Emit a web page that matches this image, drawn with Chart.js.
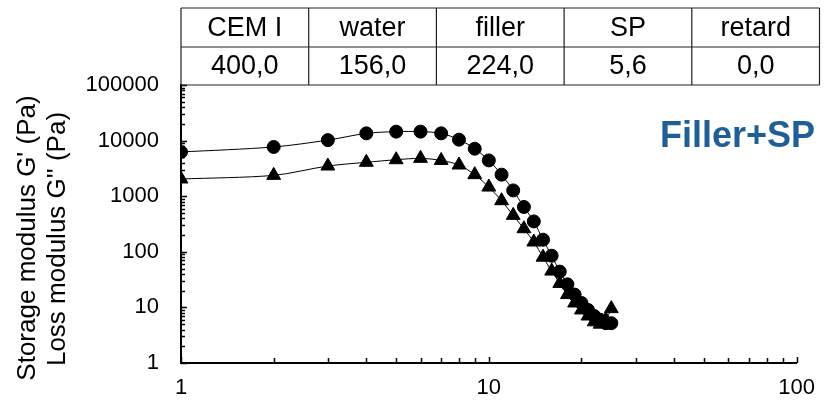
<!DOCTYPE html>
<html>
<head>
<meta charset="utf-8">
<script src="https://cdn.jsdelivr.net/npm/chart.js@4.4.1/dist/chart.umd.min.js"></script>
<style>
  html, body { margin: 0; padding: 0; background: #fff; }
</style>
</head>
<body>
<canvas id="rheoChart" width="827" height="402"></canvas>
<script>
// frequency steps and moduli
const frequency = [1, 2, 3, 4, 5, 6, 7, 8, 9, 10, 11, 12, 13, 14, 15, 16, 17, 18, 19, 20, 21, 22, 23, 24, 25];
const storageModulus = [6240, 7680, 10200, 13500, 14500, 14500, 13500, 10400, 7150, 4400, 2440, 1270, 640, 352, 165, 85, 44, 26, 17, 12, 9, 7, 6, 5.2, 5.2];
const lossModulus = [2040, 2370, 3490, 4070, 4530, 4790, 4400, 3640, 2440, 1460, 830, 452, 260, 150, 80, 45, 27, 17, 12, 9, 7, 5.5, 5, 6, 9.5];

// mix table above the plot
const tableHeaders = ["CEM I", "water", "filler", "SP", "retard"];
const tableValues = ["400,0", "156,0", "224,0", "5,6", "0,0"];

const xTickLabels = [1, 10, 100];
const yTickLabels = [1, 10, 100, 1000, 10000, 100000];
const yTitle = ["Storage modulus G' (Pa)", "Loss modulus G'' (Pa)"];
const seriesTag = "Filler+SP";

const FONT = "'Liberation Sans', Arial, sans-serif";

const toPoints = ys => frequency.map((f, i) => ({ x: f, y: ys[i] }));

// table, inward tick marks, y title and the tag
const overlay = {
  id: "overlay",
  afterDraw(chart) {
    const { ctx, chartArea, scales } = chart;
    const xs = scales.x, ys = scales.y;
    ctx.save();

    // tick marks pointing into the plot
    ctx.strokeStyle = "#000";
    ctx.lineWidth = 1.5;
    ctx.beginPath();
    for (let d = 1; d <= 10; d *= 10) {
      for (let m = 1; m <= 10; m++) {
        const px = Math.round(xs.getPixelForValue(d * m)) + 0.5;
        const len = m === 1 || m === 10 ? 6 : 5;
        ctx.moveTo(px, chartArea.bottom);
        ctx.lineTo(px, chartArea.bottom - len);
      }
    }
    for (let d = 1; d <= 10000; d *= 10) {
      for (let m = 1; m <= 10; m++) {
        const py = Math.round(ys.getPixelForValue(d * m)) + 0.5;
        const len = m === 1 || m === 10 ? 6 : 4;
        ctx.moveTo(chartArea.left, py);
        ctx.lineTo(chartArea.left + len, py);
      }
    }
    ctx.stroke();

    // table
    const colW = 127.7;
    const top = 8, mid = 47, bot = chartArea.top;
    const left = chartArea.left;
    const right = left + colW * tableHeaders.length;
    ctx.lineWidth = 1.2;
    ctx.strokeStyle = "#222";
    ctx.beginPath();
    [top, mid, bot].forEach(y => { ctx.moveTo(left, y); ctx.lineTo(right, y); });
    for (let i = 0; i <= tableHeaders.length; i++) {
      const x = left + colW * i;
      ctx.moveTo(x, top);
      ctx.lineTo(x, bot);
    }
    ctx.stroke();
    ctx.fillStyle = "#000";
    ctx.font = "27px " + FONT;
    ctx.textAlign = "center";
    ctx.textBaseline = "middle";
    tableHeaders.forEach((h, i) => {
      const cx = left + colW * (i + 0.5);
      ctx.fillText(h, cx, (top + mid) / 2 + 1);
      ctx.fillText(tableValues[i], cx, (mid + bot) / 2 + 1);
    });

    // y axis title, two lines
    ctx.font = "26px " + FONT;
    ctx.translate(0, 238);
    ctx.rotate(-Math.PI / 2);
    ctx.fillText(yTitle[0], 0, 28);
    ctx.fillText(yTitle[1], -1, 58);
    ctx.setTransform(1, 0, 0, 1, 0, 0);

    // series tag
    ctx.font = "bold 36px " + FONT;
    ctx.fillStyle = "#205f96";
    ctx.textAlign = "left";
    ctx.textBaseline = "alphabetic";
    ctx.fillText(seriesTag, 660, 147);

    ctx.restore();
  }
};

new Chart(document.getElementById("rheoChart"), {
  type: "line",
  data: {
    datasets: [
      {
        label: "G'",
        data: toPoints(storageModulus),
        borderColor: "#000",
        borderWidth: 1,
        pointStyle: "circle",
        pointRadius: 6.5,
        pointBackgroundColor: "#000",
        pointBorderColor: "#000",
        tension: 0.3
      },
      {
        label: "G''",
        data: toPoints(lossModulus),
        borderColor: "#000",
        borderWidth: 1,
        pointStyle: "triangle",
        pointRadius: 8,
        pointBackgroundColor: "#000",
        pointBorderColor: "#000",
        tension: 0.3
      }
    ]
  },
  options: {
    responsive: false,
    animation: false,
    layout: { padding: { top: 85, right: 19, left: 0, bottom: 0 } },
    plugins: {
      legend: { display: false },
      tooltip: { enabled: false }
    },
    scales: {
      x: {
        type: "logarithmic",
        min: 1,
        max: 100,
        grid: { display: false, drawTicks: false },
        border: { display: true, color: "#000", width: 2 },
        ticks: {
          autoSkip: false,
          maxRotation: 0,
          padding: 12,
          color: "#000",
          font: { family: FONT, size: 22 },
          callback: v => (xTickLabels.includes(v) ? String(v) : "")
        },
        afterFit: s => { s.height = 39; }
      },
      y: {
        type: "logarithmic",
        min: 1,
        max: 100000,
        grid: { display: false, drawTicks: false },
        border: { display: true, color: "#000", width: 2 },
        ticks: {
          autoSkip: false,
          padding: 22,
          color: "#000",
          font: { family: FONT, size: 22 },
          callback: v => (yTickLabels.includes(v) ? String(v) : "")
        },
        afterFit: s => { s.width = 181; }
      }
    }
  },
  plugins: [overlay]
});
</script>
</body>
</html>
